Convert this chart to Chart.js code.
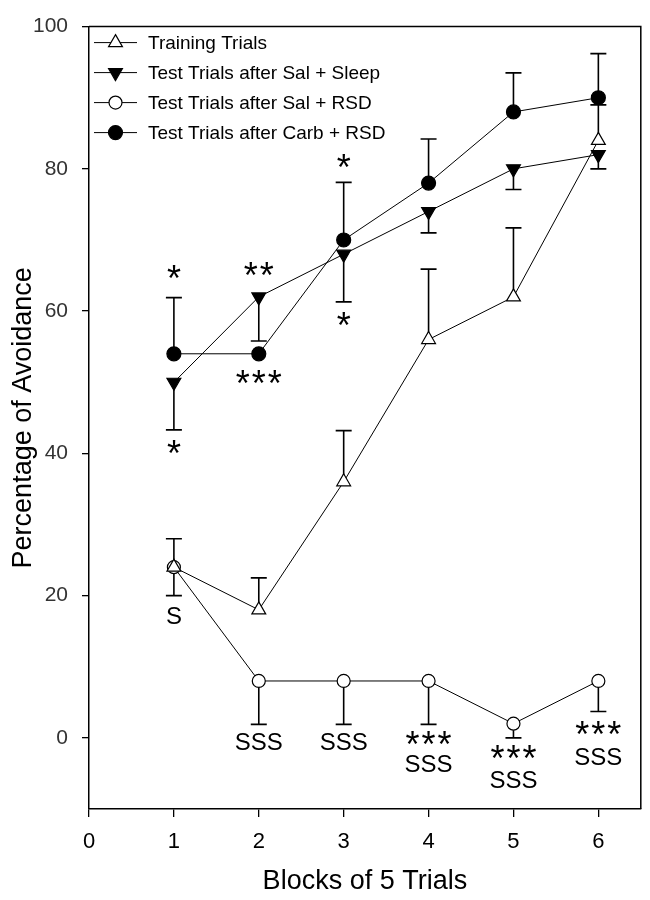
<!DOCTYPE html>
<html><head><meta charset="utf-8">
<script src="https://cdn.jsdelivr.net/npm/chart.js@4"></script>
<style>html,body{margin:0;padding:0;background:#fff}</style>
</head><body>
<canvas id="c" width="650" height="900"></canvas>
<script>
// ---- data ----
const blocks = [1, 2, 3, 4, 5, 6];
const seriesNames = ['Training Trials', 'Test Trials after Sal + Sleep', 'Test Trials after Sal + RSD', 'Test Trials after Carb + RSD'];
const training = [24, 18, 36, 56, 62, 84];
const salSleep = [50, 62, 68, 74, 80, 82];
const salRsd = [24, 8, 8, 8, 2, 8];
const carbRsd = [54, 54, 70, 78, 88, 90];
const trainingErrHigh = [28, 22.5, 43.2, 65.9, 71.7, 89];
const salSleepErrLow = [43.3, 55.8, 61.3, 71, 77.1, 80];
const salRsdErrLow = [20, 1.9, 1.9, 1.9, 0, 3.7];
const carbRsdErrHigh = [61.9, null, 78.1, 84.2, 93.5, 96.2];
const xTicks = [0, 1, 2, 3, 4, 5, 6];
const yTicks = [0, 20, 40, 60, 80, 100];
const sigX = [1, 1, 1, 2, 2, 2, 3, 3, 3, 4, 4, 5, 5, 6, 6];
const sigY = [64.8, 40.2, 17.1, 65.3, 50.1, -0.7, 80.4, 58.3, -0.7, -0.6, -3.7, -2.6, -6.0, 0.8, -2.8];
const sigText = ['*', '*', 'S', '**', '***', 'SSS', '*', '*', 'SSS', '***', 'SSS', '***', 'SSS', '***', 'SSS'];

const FONT = "'Liberation Sans', Arial, sans-serif";
const styles = [
  {pointStyle: 'triangle', rotation: 0, radius: 8, fill: '#fff'},
  {pointStyle: 'triangle', rotation: 180, radius: 8, fill: '#000'},
  {pointStyle: 'circle', rotation: 0, radius: 6.5, fill: '#fff'},
  {pointStyle: 'circle', rotation: 0, radius: 7, fill: '#000'}
];
const seriesVals = [training, salSleep, salRsd, carbRsd];
const errEnds = [trainingErrHigh, salSleepErrLow, salRsdErrLow, carbRsdErrHigh];

const datasets = seriesVals.map((vals, k) => ({
  label: seriesNames[k],
  data: blocks.map((b, i) => ({x: b, y: vals[i]})),
  borderColor: '#000',
  borderWidth: 1,
  pointStyle: styles[k].pointStyle,
  rotation: styles[k].rotation,
  pointRadius: styles[k].radius,
  pointBackgroundColor: styles[k].fill,
  pointBorderColor: '#000',
  pointBorderWidth: 1.2,
  fill: false,
  tension: 0
}));

function drawMarker(ctx, st, x, y) {
  ctx.save();
  ctx.beginPath();
  const r = st.radius;
  if (st.pointStyle === 'circle') {
    ctx.arc(x, y, r, 0, Math.PI * 2);
  } else {
    const rad = st.rotation * Math.PI / 180;
    for (let j = 0; j < 3; j++) {
      const a = rad + j * 2 * Math.PI / 3;
      const px = x + Math.sin(a) * r, py = y - Math.cos(a) * r;
      if (j === 0) ctx.moveTo(px, py); else ctx.lineTo(px, py);
    }
    ctx.closePath();
  }
  ctx.fillStyle = st.fill;
  ctx.fill();
  ctx.lineWidth = 1.2;
  ctx.strokeStyle = '#000';
  ctx.stroke();
  ctx.restore();
}

const extras = {
  id: 'extras',
  beforeDatasetsDraw(chart) {
    const {ctx, scales: {x, y}} = chart;
    ctx.save();
    ctx.strokeStyle = '#000';
    ctx.lineWidth = 1.6;
    errEnds.forEach((ends, k) => {
      ends.forEach((e, i) => {
        if (e === null) return;
        const px = x.getPixelForValue(blocks[i]);
        const p0 = y.getPixelForValue(seriesVals[k][i]);
        const p1 = y.getPixelForValue(e);
        ctx.beginPath();
        ctx.moveTo(px, p0); ctx.lineTo(px, p1);
        ctx.moveTo(px - 8, p1); ctx.lineTo(px + 8, p1);
        ctx.stroke();
      });
    });
    ctx.restore();
  },
  afterDraw(chart) {
    const {ctx, chartArea: ca, scales: {x, y}} = chart;
    ctx.save();
    // frame top & right
    ctx.strokeStyle = '#000';
    ctx.lineWidth = 1.5;
    ctx.beginPath();
    ctx.moveTo(ca.left, ca.top); ctx.lineTo(ca.right, ca.top); ctx.lineTo(ca.right, ca.bottom);
    ctx.stroke();
    // legend
    ctx.font = '19px ' + FONT;
    ctx.textBaseline = 'middle';
    ctx.textAlign = 'left';
    ctx.fillStyle = '#000';
    seriesNames.forEach((name, k) => {
      const ly = ca.top + 16 + 30 * k;
      ctx.lineWidth = 1;
      ctx.beginPath();
      ctx.moveTo(ca.left + 5, ly); ctx.lineTo(ca.left + 48, ly);
      ctx.stroke();
      drawMarker(ctx, styles[k], ca.left + 26.5, ly);
      ctx.fillStyle = '#000';
      ctx.fillText(name, ca.left + 59, ly + 1);
    });
    // significance marks
    ctx.textAlign = 'center';
    sigText.forEach((t, i) => {
      const px = x.getPixelForValue(sigX[i]);
      const py = y.getPixelForValue(sigY[i]);
      if (t[0] === '*') {
        ctx.font = '36px ' + FONT;
        ctx.textBaseline = 'alphabetic';
        const n = t.length;
        for (let j = 0; j < n; j++) {
          ctx.fillText('*', px + (j - (n - 1) / 2) * 16, py + 0.4 * 36);
        }
      } else {
        ctx.font = '24px ' + FONT;
        ctx.textBaseline = 'middle';
        ctx.fillText(t, px, py + 1);
      }
    });
    ctx.restore();
  }
};

new Chart(document.getElementById('c'), {
  type: 'line',
  data: {datasets},
  plugins: [extras],
  options: {
    responsive: false,
    animation: false,
    devicePixelRatio: 1,
    layout: {padding: {top: 17, right: 6, left: 0, bottom: 0}},
    plugins: {legend: {display: false}, tooltip: {enabled: false}},
    scales: {
      x: {
        type: 'linear', min: 0, max: 6.5,
        afterBuildTicks: s => { s.ticks = xTicks.map(v => ({value: v})); },
        afterFit: s => { s.height = 91; },
        grid: {display: true, drawOnChartArea: false, drawTicks: true, tickLength: 8, color: '#000', lineWidth: 1.3},
        border: {display: true, color: '#000', width: 1.5},
        ticks: {font: {family: FONT, size: 22}, color: '#000', padding: 12, maxRotation: 0},
        title: {display: true, text: 'Blocks of 5 Trials', font: {family: FONT, size: 27}, color: '#000', padding: {top: 0, bottom: 2}}
      },
      y: {
        type: 'linear', min: -10, max: 100,
        afterBuildTicks: s => { s.ticks = yTicks.map(v => ({value: v})); },
        afterFit: s => { s.width = 89; },
        grid: {display: true, drawOnChartArea: false, drawTicks: true, tickLength: 7, color: '#000', lineWidth: 1.3},
        border: {display: true, color: '#000', width: 1.5},
        ticks: {font: {family: FONT, size: 21}, color: '#333', padding: 14},
        title: {display: true, text: 'Percentage of Avoidance', font: {family: FONT, size: 27}, color: '#000', padding: {top: 7, bottom: 0}}
      }
    }
  }
});
</script>
</body></html>
